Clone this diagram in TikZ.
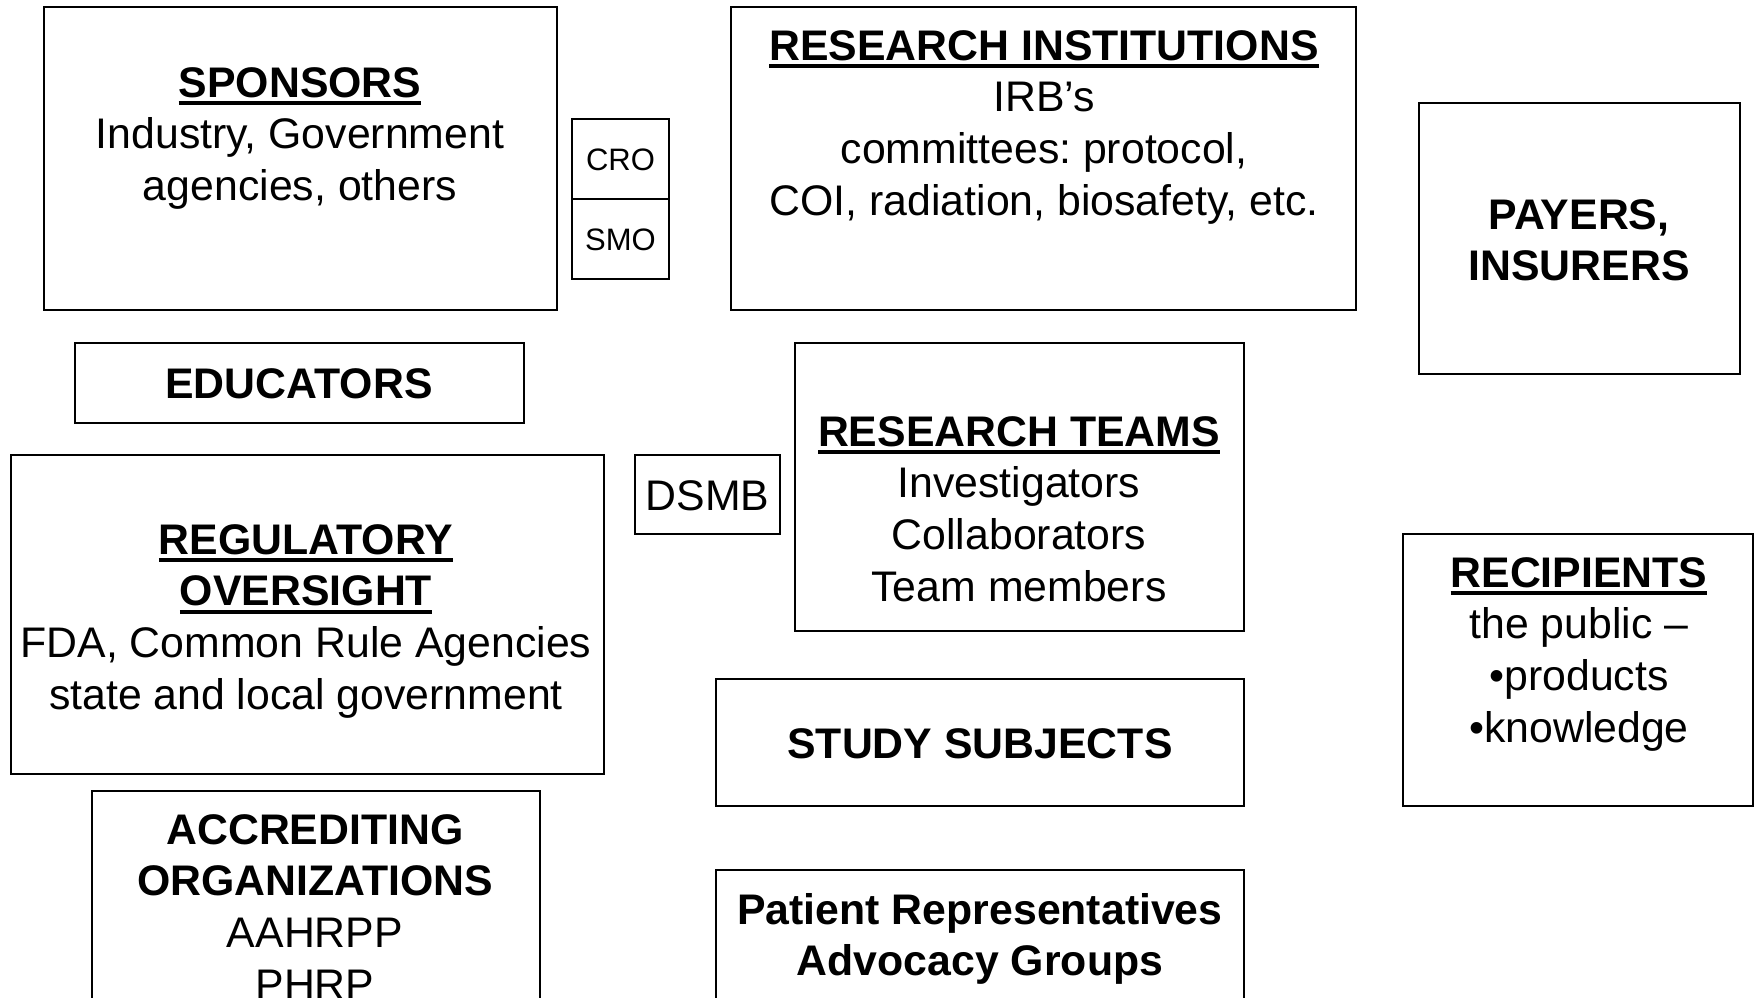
\documentclass[tikz,border=0pt]{standalone}
\usepackage{fontspec}
\setmainfont{Liberation Sans}
\frenchspacing
\newcommand\ulx[1]{\setbox0=\hbox{#1}\rlap{\rule[-8pt]{\wd0}{4pt}}\box0}
\begin{document}
\frenchspacing
\begin{tikzpicture}[x=1pt,y=-1pt,
  box/.style={draw, line width=2.2pt, inner sep=0pt, outer sep=0pt},
  txt/.style={anchor=base, align=center, inner sep=0pt, font=\fontsize{42.8}{51.7}\selectfont},
  small/.style={anchor=base, align=center, inner sep=0pt, font=\fontsize{31}{37}\selectfont}]
\useasboundingbox (0,0) rectangle (1756,997);
\clip (0,0) rectangle (1756,997);
% boxes
\node[box, minimum width=513pt, minimum height=303pt] (spons) at (300.5,158.5) {};
\node[box, minimum width=97pt, minimum height=80pt] (cro) at (620.5,159) {};
\node[box, minimum width=97pt, minimum height=80pt] (smo) at (620.5,239) {};
\node[box, minimum width=625pt, minimum height=303pt] (resinst) at (1043.5,158.5) {};
\node[box, minimum width=321pt, minimum height=271pt] (payers) at (1579.5,238.5) {};
\node[box, minimum width=449pt, minimum height=80pt] (educ) at (299.5,383) {};
\node[box, minimum width=449pt, minimum height=288pt] (teams) at (1019.5,487) {};
\node[box, minimum width=145pt, minimum height=79pt] (dsmb) at (707.5,494.5) {};
\node[box, minimum width=593pt, minimum height=319pt] (reg) at (307.5,614.5) {};
\node[box, minimum width=350pt, minimum height=272pt] (recip) at (1578,670) {};
\node[box, minimum width=528pt, minimum height=127pt] (study) at (980,742.5) {};
\node[box, minimum width=448pt, minimum height=219pt] (accr) at (316,900.5) {};
\node[box, minimum width=528pt, minimum height=140pt] (patient) at (980,940) {};
% texts (anchor base = baseline of the last line)
\node[txt] (tspons) at (300,200.4) {\textbf{\ulx{SPONSORS}}\\Industry, Government\\agencies, others};
\node[small] (tcro) at (620.5,170) {CRO};
\node[small] (tsmo) at (620.5,250) {SMO};
\node[txt] (tresinst) at (1044,215.1) {\textbf{\ulx{RESEARCH INSTITUTIONS}}\\IRB’s\\committees: protocol,\\COI, radiation, biosafety, etc.};
\node[txt] (tpayers) at (1579,280.7) {\textbf{PAYERS,}\\\textbf{INSURERS}};
\node[txt] (teduc) at (299,398) {\textbf{EDUCATORS}};
\node[txt] (tteams) at (1019,601.1) {\textbf{\ulx{RESEARCH TEAMS}}\\Investigators\\Collaborators\\Team members};
\node[txt] (tdsmb) at (707.5,510) {DSMB};
\node[txt] (treg) at (306,709.1) {\textbf{\ulx{REGULATORY}}\\\textbf{\ulx{OVERSIGHT}}\\FDA, Common Rule Agencies\\state and local government};
\node[txt] (trecip) at (1579,742.1) {\textbf{\ulx{RECIPIENTS}}\\the public –\\•products\\•knowledge};
\node[txt] (tstudy) at (980,758) {\textbf{STUDY SUBJECTS}};
\node[txt] (taccr) at (315,999.1) {\textbf{ACCREDITING}\\\textbf{ORGANIZATIONS}\\AAHRPP\\PHRP};
\node[txt] (tpatient) at (980,975.7) {\textbf{Patient Representatives}\\\textbf{Advocacy Groups}};
\end{tikzpicture}
\end{document}
